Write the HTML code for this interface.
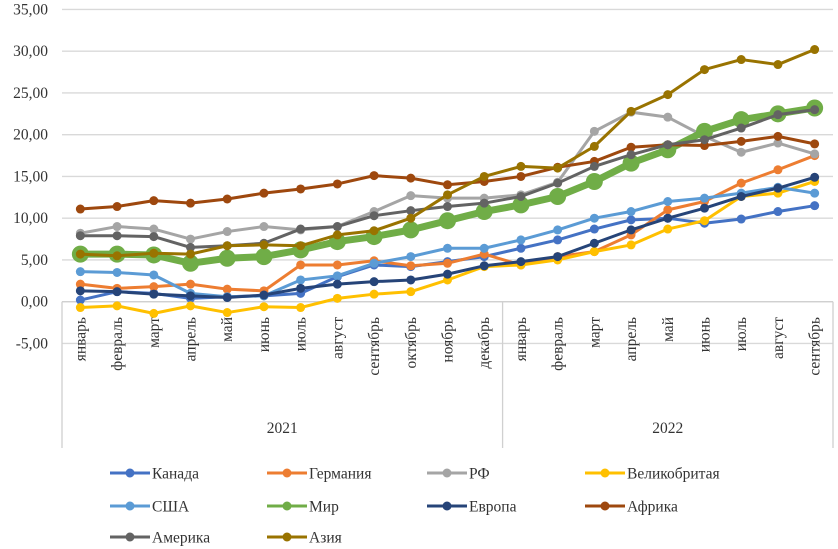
<!DOCTYPE html>
<html><head><meta charset="utf-8"><style>
body{margin:0;background:#fff;}
svg{display:block;font-family:"Liberation Serif","DejaVu Serif",serif;}
</style></head><body>
<svg id="chart" width="838" height="549" viewBox="0 0 838 549"></svg>
<script>
const months = ["январь","февраль","март","апрель","май","июнь","июль","август","сентябрь","октябрь","ноябрь","декабрь","январь","февраль","март","апрель","май","июнь","июль","август","сентябрь"];
const years = ["2021","2022"];
const yearCounts = [12, 9];
const yTicks = [-5,0,5,10,15,20,25,30,35];
const seriesNames = ["Канада","Германия","РФ","Великобритая","США","Мир","Европа","Африка","Америка","Азия"];
const canada  = [0.2,1.2,1.0,0.4,0.6,0.7,1.0,3.0,4.4,4.2,4.8,5.4, 6.4,7.4,8.7,9.8,10.0,9.4,9.9,10.8,11.5];
const germany = [2.1,1.6,1.8,2.1,1.5,1.3,4.4,4.4,4.9,4.3,4.6,5.7, 4.4,5.4,6.0,8.0,11.0,12.0,14.2,15.8,17.5];
const rf      = [8.2,9.0,8.7,7.5,8.4,9.0,8.6,9.0,10.8,12.7,12.4,12.4, 12.8,14.3,20.4,22.7,22.1,19.8,17.9,19.0,17.7];
const uk      = [-0.7,-0.5,-1.4,-0.5,-1.3,-0.6,-0.7,0.4,0.9,1.2,2.6,4.2, 4.4,5.0,6.0,6.8,8.7,9.7,12.6,13.0,14.4];
const usa     = [3.6,3.5,3.2,1.0,0.6,0.7,2.6,3.1,4.6,5.4,6.4,6.4, 7.4,8.6,10.0,10.8,12.0,12.4,13.0,13.7,13.0];
const mir     = [5.7,5.7,5.6,4.6,5.2,5.4,6.2,7.2,7.8,8.6,9.7,10.8, 11.6,12.6,14.4,16.6,18.2,20.4,21.8,22.5,23.2];
const europe  = [1.3,1.2,0.9,0.7,0.5,0.8,1.6,2.1,2.4,2.6,3.3,4.3, 4.8,5.4,7.0,8.6,10.0,11.2,12.6,13.6,14.9];
const africa  = [11.1,11.4,12.1,11.8,12.3,13.0,13.5,14.1,15.1,14.8,14.0,14.4, 15.0,16.1,16.8,18.5,18.8,18.7,19.2,19.8,18.9];
const america = [7.9,7.9,7.8,6.5,6.7,7.0,8.7,9.0,10.3,10.9,11.4,11.8, 12.6,14.2,16.2,17.6,18.8,19.4,20.8,22.4,23.0];
const asia    = [5.7,5.5,5.8,5.7,6.7,6.8,6.7,8.0,8.5,10.0,12.8,15.0, 16.2,16.0,18.6,22.8,24.8,27.8,29.0,28.4,30.2];
const seriesData = [canada,germany,rf,uk,usa,mir,europe,africa,america,asia];
const colors = ["#4472C4","#ED7D31","#A5A5A5","#FFC000","#5B9BD5","#70AD47","#264478","#9E480E","#636363","#997300"];

const NS="http://www.w3.org/2000/svg";
const svg=document.getElementById('chart');
const X0=62, X1=833, yZero=301.7, pxPer=8.35;
const band=(X1-X0)/months.length;
const xs=i=>X0+band*(i+0.5);
const ys=v=>yZero-v*pxPer;
function mk(tag,attrs,parent){const e=document.createElementNS(NS,tag);for(const k in attrs)e.setAttribute(k,attrs[k]);(parent||svg).appendChild(e);return e;}

yTicks.forEach(t=>{
  const g=mk('line',{x1:X0,x2:X1,y1:ys(t),y2:ys(t),stroke:'#d9d9d9','stroke-width':1.3});
  
  
  const tx=mk('text',{x:48,y:ys(t)+5,'text-anchor':'end','font-size':15.5,fill:'#333'});
  tx.textContent=t.toFixed(2).replace('.',',');
  
  
});
const ax=mk('line',{x1:X0,x2:X1,y1:ys(0),y2:ys(0),stroke:'#d0d0d0','stroke-width':1.3});


let cum=0;
const sepXs=[X0];
yearCounts.forEach(c=>{cum+=c;sepXs.push(X0+band*cum);});
sepXs.forEach(x=>{
  const l=mk('line',{x1:x,x2:x,y1:ys(0),y2:448,stroke:'#d0d0d0','stroke-width':1.3});
  
  
});
months.forEach((m,i)=>{
  const t=mk('text',{transform:`translate(${xs(i)+5},317) rotate(-90)`,'text-anchor':'end','font-size':15.5,fill:'#333'});
  t.textContent=m;
  
  
});
cum=0;
years.forEach((y,k)=>{
  const cx=X0+band*(cum+yearCounts[k]/2);cum+=yearCounts[k];
  const t=mk('text',{x:cx,y:433,'text-anchor':'middle','font-size':15.5,fill:'#333'});
  t.textContent=y;
  
  
});
seriesData.forEach((d,s)=>{
  const big=s===5;
  const g=mk('g',{});
  
  
  const p=mk('polyline',{points:d.map((v,i)=>xs(i)+','+ys(v)).join(' '),fill:'none',stroke:colors[s],'stroke-width':big?7:3,'stroke-linejoin':'round'},g);
  
  
  d.forEach((v,i)=>{
    const c=mk('circle',{cx:xs(i),cy:ys(v),r:big?8.5:4.5,fill:colors[s]},g);
    
    
  });
});
const legCols=[110,267,427,585];
const legRows=[473,506,537];
seriesNames.forEach((n,s)=>{
  const lx=legCols[s%4], ly=legRows[Math.floor(s/4)];
  const g=mk('g',{});
  
  
  mk('line',{x1:lx,x2:lx+40,y1:ly,y2:ly,stroke:colors[s],'stroke-width':3},g);
  mk('circle',{cx:lx+20,cy:ly,r:4.5,fill:colors[s]},g);
  const t=mk('text',{x:lx+42,y:ly+5.5,'font-size':15.5,fill:'#333'},g);
  t.textContent=n;
});
</script>
</body></html>
